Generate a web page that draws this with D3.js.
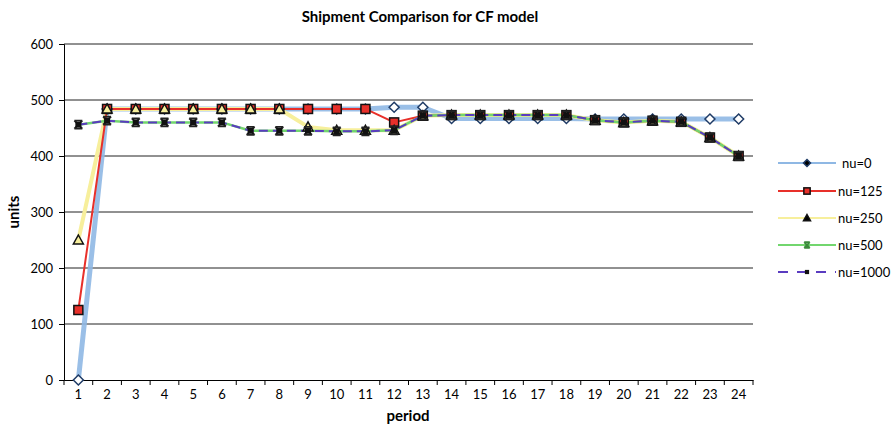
<!DOCTYPE html>
<html>
<head>
<meta charset="utf-8">
<script src="https://cdn.jsdelivr.net/npm/d3@7.9.0/dist/d3.min.js"></script>
<style>
  body { margin: 0; background: #fff; }
  svg { font-family: Lato, "Open Sans", sans-serif; }
</style>
</head>
<body>
<svg id="chart" width="892" height="427"></svg>
<script>
const periods = ['1','2','3','4','5','6','7','8','9','10','11','12','13','14','15','16','17','18','19','20','21','22','23','24'];
const yTicks = [0, 100, 200, 300, 400, 500, 600];

const nu0    = [0, 484, 484, 484, 484, 484, 484, 484, 484, 484, 484, 487, 487, 467, 467, 467, 467, 467, 466, 466, 466, 466, 466, 466];
const nu125  = [125, 484, 484, 484, 484, 484, 484, 484, 484, 484, 484, 460, 472, 473, 473, 473, 473, 473, 464, 460, 463, 461, 433, 400];
const nu250  = [250, 484, 484, 484, 484, 484, 484, 484, 452, 446, 446, 446, 472, 473, 473, 473, 473, 473, 464, 460, 463, 461, 433, 400];
const nu500  = [456, 463, 460, 460, 460, 460, 445, 445, 445, 444, 444, 446, 472, 473, 473, 473, 473, 473, 464, 460, 463, 461, 433, 400];
const nu1000 = [456, 463, 460, 460, 460, 460, 445, 445, 445, 444, 444, 446, 472, 473, 473, 473, 473, 473, 464, 460, 463, 461, 433, 400];

const series = [
  { name: 'nu=0',    values: nu0,    color: '#8fb8e4', width: 5, dash: null, marker: 'diamond' },
  { name: 'nu=250',  values: nu250,  color: '#f7ef9c', width: 4, dash: null, marker: 'triangle' },
  { name: 'nu=125',  values: nu125,  color: '#e8302a', width: 2, dash: null, marker: 'square' },
  { name: 'nu=500',  values: nu500,  color: '#72d66e', width: 2.5, dash: null, marker: 'cross' },
  { name: 'nu=1000', values: nu1000, color: '#5a3cc0', width: 2, dash: '9,5', marker: 'smallsquare' }
];
const legendOrder = ['nu=0', 'nu=125', 'nu=250', 'nu=500', 'nu=1000'];

const svg = d3.select('#chart');
const plotLeft = 64, plotRight = 753, plotTop = 44, plotBottom = 380;

const x = d3.scaleBand().domain(periods).range([plotLeft, plotRight]);
const y = d3.scaleLinear().domain([0, 600]).range([plotBottom, plotTop]);
const cx = (p) => x(p) + x.bandwidth() / 2;

// title
svg.append('text')
  .attr('x', 420).attr('y', 22)
  .attr('text-anchor', 'middle')
  .attr('font-size', 15).attr('font-weight', 'bold')
  .text('Shipment Comparison for CF model');

// gridlines
svg.append('g').selectAll('line')
  .data(yTicks.filter(d => d > 0))
  .join('line')
  .attr('x1', plotLeft).attr('x2', plotRight)
  .attr('y1', d => y(d)).attr('y2', d => y(d))
  .attr('stroke', '#222').attr('stroke-width', 1);

// y axis
const yAxis = svg.append('g')
  .attr('transform', `translate(${plotLeft},0)`)
  .call(d3.axisLeft(y).tickValues(yTicks).tickSize(5).tickPadding(6));
yAxis.select('.domain').attr('stroke', '#000');
yAxis.selectAll('text').attr('font-size', 13).attr('font-family', 'Lato, sans-serif');

// x axis, ticks between the periods
const xAxis = svg.append('g')
  .attr('transform', `translate(0,${plotBottom})`)
  .call(d3.axisBottom(x).tickSize(0).tickPadding(10));
xAxis.select('.domain').attr('stroke', '#000');
xAxis.selectAll('text').attr('font-size', 13).attr('font-family', 'Lato, sans-serif');
xAxis.selectAll('.edge')
  .data(periods.concat(['end']))
  .join('line')
  .attr('class', 'edge')
  .attr('x1', (d, i) => i < periods.length ? x(d) : plotRight)
  .attr('x2', (d, i) => i < periods.length ? x(d) : plotRight)
  .attr('y1', 0).attr('y2', 5)
  .attr('stroke', '#000');

// axis titles
svg.append('text')
  .attr('x', 408).attr('y', 421)
  .attr('text-anchor', 'middle')
  .attr('font-size', 15).attr('font-weight', 'bold')
  .text('period');
svg.append('text')
  .attr('transform', `translate(19,${(plotTop + plotBottom) / 2}) rotate(-90)`)
  .attr('text-anchor', 'middle')
  .attr('font-size', 15).attr('font-weight', 'bold')
  .text('units');

// lines
const line = d3.line()
  .x((d, i) => cx(periods[i]))
  .y(d => y(d));

series.forEach(s => {
  svg.append('path')
    .attr('d', line(s.values))
    .attr('fill', 'none')
    .attr('stroke', s.color)
    .attr('stroke-width', s.width)
    .attr('stroke-dasharray', s.dash)
    .attr('stroke-linejoin', 'round')
    .attr('opacity', s.name === 'nu=0' ? 0.9 : 1);
});

function drawMarker(g, type, color, px, py, scale) {
  const k = scale || 1;
  if (type === 'diamond') {
    const r = 5 * k;
    g.append('path')
      .attr('d', `M${px},${py - r}L${px + r},${py}L${px},${py + r}L${px - r},${py}Z`)
      .attr('fill', k < 1 ? '#000' : '#fff').attr('stroke', '#1f3b66').attr('stroke-width', 1.5);
  } else if (type === 'square') {
    const r = 4.5 * k;
    g.append('rect')
      .attr('x', px - r).attr('y', py - r).attr('width', 2 * r).attr('height', 2 * r)
      .attr('fill', color).attr('stroke', '#111').attr('stroke-width', 1.5);
  } else if (type === 'triangle') {
    const r = 5 * k;
    g.append('path')
      .attr('d', `M${px},${py - r}L${px + r},${py + r * 0.8}L${px - r},${py + r * 0.8}Z`)
      .attr('fill', k < 1 ? '#000' : color).attr('stroke', '#111').attr('stroke-width', 1.5);
  } else if (type === 'cross') {
    const r = 4 * k;
    g.append('path')
      .attr('d', `M${px - r},${py - r}L${px + r},${py + r}M${px + r},${py - r}L${px - r},${py + r}M${px - r},${py - r}L${px + r},${py - r}M${px - r},${py + r}L${px + r},${py + r}`)
      .attr('fill', 'none').attr('stroke', k < 1 ? '#3a8a3a' : '#222').attr('stroke-width', 1.8);
  } else {
    const r = 3 * k;
    g.append('rect')
      .attr('x', px - r).attr('y', py - r).attr('width', 2 * r).attr('height', 2 * r)
      .attr('fill', '#111');
  }
}

// markers, drawn in legend order so later series sit on top
const markers = svg.append('g');
legendOrder.forEach(name => {
  const s = series.find(d => d.name === name);
  s.values.forEach((v, i) => drawMarker(markers, s.marker, s.color, cx(periods[i]), y(v)));
});

// legend
const legend = svg.append('g');
const legendY = [163, 191, 218, 245, 272];
legendOrder.forEach((name, i) => {
  const s = series.find(d => d.name === name);
  const ly = legendY[i];
  legend.append('line')
    .attr('x1', 778).attr('x2', 836)
    .attr('y1', ly).attr('y2', ly)
    .attr('stroke', s.color).attr('stroke-width', 2)
    .attr('stroke-dasharray', s.dash ? '10,9' : null);
  drawMarker(legend, s.marker, s.color, 807, ly, 0.7);
  legend.append('text')
    .attr('x', name === 'nu=0' ? 842 : 838).attr('y', ly + 5)
    .attr('font-size', 13)
    .text(name);
});
</script>
</body>
</html>
